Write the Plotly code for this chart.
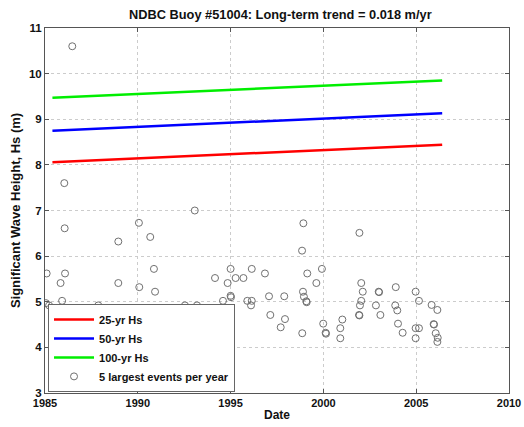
import plotly.graph_objects as go

# Return-period lines (start/end year and Hs)
line_years = [1985.4, 2006.4]
hs25 = [8.06, 8.44]
hs50 = [8.75, 9.13]
hs100 = [9.47, 9.85]

# 5 largest events per year (decimal year, Hs in m)
ev_year = [1985.09, 1985.05, 1985.22, 1985.50, 1985.84, 1985.92, 1986.04, 1986.06, 1986.08, 1986.47,
           1987.87, 1988.95, 1988.95, 1989.49, 1990.06, 1990.67, 1990.08, 1990.87, 1990.93, 1991.95,
           1992.54, 1993.07, 1993.19, 1993.08, 1993.60, 1993.91, 1994.21, 1994.16, 1994.59, 1994.84,
           1995.00, 1995.00, 1995.02, 1995.27, 1995.69, 1995.90, 1996.14, 1996.10, 1996.14, 1996.85,
           1997.07, 1997.14, 1997.70, 1997.89, 1997.93, 1998.86, 1998.85, 1998.92, 1998.90, 1998.95,
           1999.08, 1999.10, 1999.13, 1999.62, 1999.92, 1999.99, 2000.12, 2000.14, 2000.91, 2000.91,
           2001.02, 2001.94, 2002.04, 2002.12, 2002.04, 2001.97, 2001.92, 2001.94, 2002.98, 2003.00,
           2002.83, 2003.07, 2003.90, 2003.87, 2003.98, 2004.02, 2004.27, 2004.97, 2005.15, 2004.97,
           2005.15, 2004.97, 2005.83, 2006.14, 2005.94, 2005.96, 2006.05, 2006.16, 2006.14]
ev_hs = [5.62, 4.97, 4.92, 4.81, 5.41, 5.02, 7.60, 6.61, 5.62, 10.60,
         4.92, 6.32, 5.41, 4.64, 6.73, 6.42, 5.32, 5.72, 5.22, 4.71,
         4.92, 7.00, 4.92, 4.63, 4.81, 4.81, 4.71, 5.52, 5.02, 5.41,
         5.72, 5.13, 5.10, 5.52, 5.52, 5.02, 5.02, 4.92, 5.72, 5.62,
         5.12, 4.71, 4.44, 5.12, 4.62, 4.31, 6.12, 6.72, 5.22, 5.11,
         5.01, 4.99, 5.62, 5.41, 5.72, 4.52, 4.32, 4.30, 4.42, 4.20,
         4.61, 6.51, 5.41, 5.22, 5.02, 4.92, 4.71, 4.70, 5.22, 5.21,
         4.92, 4.71, 5.32, 4.92, 4.81, 4.52, 4.32, 5.22, 5.02, 4.42,
         4.42, 4.20, 4.93, 4.82, 4.51, 4.50, 4.31, 4.21, 4.12]

x_ticks = [1985, 1990, 1995, 2000, 2005, 2010]
y_ticks = [3, 4, 5, 6, 7, 8, 9, 10, 11]

fig = go.Figure()
fig.add_trace(go.Scatter(x=line_years, y=hs25, mode="lines", name="25-yr Hs",
                         line=dict(color="#ff0000", width=2.5)))
fig.add_trace(go.Scatter(x=line_years, y=hs50, mode="lines", name="50-yr Hs",
                         line=dict(color="#0000ff", width=2.5)))
fig.add_trace(go.Scatter(x=line_years, y=hs100, mode="lines", name="100-yr Hs",
                         line=dict(color="#00ee00", width=2.5)))
fig.add_trace(go.Scatter(x=ev_year, y=ev_hs, mode="markers", name="5 largest events per year",
                         marker=dict(symbol="circle-open", size=7, color="#707070",
                                     line=dict(width=1, color="#707070"))))

font = "Liberation Sans, Arial, sans-serif"
W, H = 524, 427
fig.update_layout(
    width=W, height=H,
    margin=dict(l=45, r=15, t=28, b=34),
    paper_bgcolor="white", plot_bgcolor="white",
    font=dict(family=font, size=11, color="#111"),
    title=dict(text="<b>NDBC Buoy #51004: Long-term trend = 0.018 m/yr</b>",
               x=0.535, xanchor="center", yref="container", y=1 - 15 / H, yanchor="middle",
               font=dict(size=12.8, family=font, color="#111")),
    showlegend=True,
    legend=dict(x=0.0065, y=0.003, xanchor="left", yanchor="bottom",
                bgcolor="white", bordercolor="#666", borderwidth=1,
                font=dict(size=11, family=font, color="#111", weight="bold"),
                tracegroupgap=0, itemwidth=40),
)
fig.update_xaxes(range=[1985, 2010], tickvals=x_ticks, ticktext=[str(v) for v in x_ticks],
                 showgrid=True, gridcolor="#cccccc", griddash="dot", gridwidth=1,
                 showline=True, linecolor="#555", linewidth=1, mirror="ticks",
                 ticks="inside", ticklen=4, tickcolor="#555", zeroline=False,
                 automargin=False,
                 title=dict(text="<b>Date</b>", standoff=2, font=dict(size=12)),
                 tickfont=dict(size=11, weight="bold"))
fig.update_yaxes(range=[3, 11], tickvals=y_ticks, ticktext=[str(v) for v in y_ticks],
                 showgrid=True, gridcolor="#cccccc", griddash="dot", gridwidth=1,
                 showline=True, linecolor="#555", linewidth=1, mirror="ticks",
                 ticks="inside", ticklen=4, tickcolor="#555", zeroline=False,
                 automargin=False,
                 title=dict(text="<b>Significant Wave Height, Hs (m)</b>", standoff=5, font=dict(size=13)),
                 tickfont=dict(size=11.5, weight="bold"))

fig.write_html("out.html", config={"displayModeBar": False},
               post_script="document.body.style.margin='0';document.body.style.overflow='hidden';")
